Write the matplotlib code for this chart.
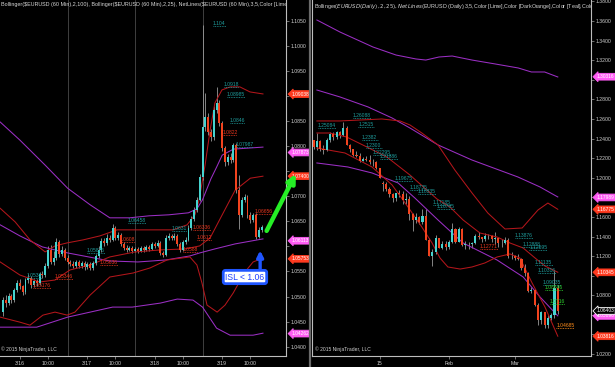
import matplotlib
matplotlib.use('Agg')
import matplotlib.pyplot as plt
from matplotlib.lines import Line2D
from matplotlib.ticker import MultipleLocator, FuncFormatter
from matplotlib.transforms import blended_transform_factory

plt.rcParams['font.family'] = ['Liberation Sans', 'DejaVu Sans']

BG = 'black'
UP = '#46d3cf'
DOWN = '#f2431e'
WICK = '#9a9a9a'
PURPLE = '#9b2fc4'
DARKRED = '#b3161b'
TEAL = '#1f9d9d'
LBLRED = '#e8361e'
LIME = '#2fd12f'
ORANGE = '#ff8c1a'
PINK = '#ff5cf4'
TAGRED = '#ff3a1f'
TXT = '#cfcfcf'

# ---------------- EURUSD 60 min, 16-19 March 2015 ----------------
h_first_open = 1.0469
h_close = [1.0493, 1.0487, 1.0501, 1.0493, 1.0513, 1.0527, 1.0521, 1.0509, 1.0533, 1.0537,
           1.0523, 1.0531, 1.0527, 1.0545, 1.0543, 1.0561, 1.0593, 1.0569, 1.0577, 1.0609,
           1.0585, 1.0593, 1.0577, 1.0569, 1.0565, 1.0561, 1.0569, 1.0561, 1.0567, 1.0559,
           1.0565, 1.0557, 1.0567, 1.0581, 1.0593, 1.0611, 1.0607, 1.0617, 1.0613, 1.0637,
           1.0617, 1.0623, 1.0605, 1.0597, 1.0593, 1.0597, 1.0591, 1.0595, 1.0591, 1.0597,
           1.0593, 1.0599, 1.0595, 1.0605, 1.0601, 1.0607, 1.0587, 1.0583, 1.0617, 1.0621,
           1.0617, 1.0621, 1.0605, 1.0593, 1.0609, 1.0613, 1.0637, 1.0655, 1.0673, 1.0693,
           1.0738, 1.0838, 1.0858, 1.0828, 1.0818, 1.0872, 1.0886, 1.0846, 1.0796, 1.0768,
           1.0778, 1.0772, 1.0802, 1.0713, 1.0663, 1.0693, 1.0699, 1.0663, 1.0653, 1.0663,
           1.0619, 1.0633, 1.0639]
h_high = [1.0499, 1.0503, 1.0508, 1.0506, 1.0518, 1.0533, 1.0535, 1.0524, 1.0538, 1.0545,
          1.0541, 1.0536, 1.0535, 1.0549, 1.0551, 1.0566, 1.0600, 1.0603, 1.0590, 1.0617,
          1.0613, 1.0601, 1.0597, 1.0582, 1.0573, 1.0570, 1.0573, 1.0572, 1.0571, 1.0570,
          1.0569, 1.0568, 1.0570, 1.0585, 1.0600, 1.0617, 1.0616, 1.0624, 1.0622, 1.0644,
          1.0641, 1.0628, 1.0626, 1.0609, 1.0602, 1.0601, 1.0600, 1.0599, 1.0598, 1.0601,
          1.0600, 1.0603, 1.0602, 1.0609, 1.0608, 1.0612, 1.0610, 1.0591, 1.0622, 1.0627,
          1.0625, 1.0626, 1.0624, 1.0608, 1.0613, 1.0618, 1.0642, 1.0660, 1.0679, 1.0699,
          1.0745, 1.1042, 1.0905, 1.0866, 1.0835, 1.0880, 1.0918, 1.0892, 1.0850, 1.0800,
          1.0784, 1.0786, 1.0807, 1.0806, 1.0742, 1.0698, 1.0704, 1.0703, 1.0668, 1.0667,
          1.0666, 1.0638, 1.0643]
h_low = [1.0462, 1.0480, 1.0483, 1.0488, 1.0490, 1.0509, 1.0516, 1.0503, 1.0505, 1.0528,
         1.0518, 1.0519, 1.0521, 1.0524, 1.0537, 1.0539, 1.0556, 1.0564, 1.0563, 1.0573,
         1.0579, 1.0581, 1.0572, 1.0564, 1.0560, 1.0556, 1.0557, 1.0556, 1.0557, 1.0552,
         1.0555, 1.0553, 1.0552, 1.0563, 1.0577, 1.0589, 1.0601, 1.0603, 1.0608, 1.0610,
         1.0612, 1.0613, 1.0600, 1.0592, 1.0589, 1.0590, 1.0587, 1.0588, 1.0587, 1.0588,
         1.0589, 1.0590, 1.0591, 1.0592, 1.0597, 1.0598, 1.0582, 1.0578, 1.0580, 1.0612,
         1.0612, 1.0613, 1.0600, 1.0588, 1.0590, 1.0605, 1.0610, 1.0633, 1.0651, 1.0669,
         1.0690, 1.0733, 1.0830, 1.0822, 1.0810, 1.0812, 1.0866, 1.0840, 1.0790, 1.0760,
         1.0763, 1.0766, 1.0768, 1.0706, 1.0634, 1.0658, 1.0688, 1.0657, 1.0646, 1.0648,
         1.0614, 1.0616, 1.0628]

# Bollinger(2,100) - purple
h_pu_x = [-1, 6, 15, 23, 31, 38, 45, 52, 59, 66, 69, 71, 74, 76, 78, 82, 92.5]
h_pu = [1.0848, 1.0812, 1.0762, 1.0716, 1.0683, 1.0657, 1.0657, 1.0661, 1.0663, 1.0667,
        1.0675, 1.0693, 1.0735, 1.0758, 1.0782, 1.0794, 1.0798]
h_pm_x = [-1, 6, 14, 23, 38, 48, 58, 66.5, 70, 75.4, 82.6, 92.5]
h_pm = [1.0643, 1.0621, 1.0599, 1.0587, 1.0571, 1.0569, 1.0573, 1.0581, 1.0587, 1.0595, 1.0605, 1.0615]
h_pl_x = [-1, 12, 23, 39, 46, 56, 62, 67.6, 71, 76, 80.8, 89, 92.5]
h_pl = [1.0439, 1.0439, 1.0459, 1.0479, 1.0479, 1.0487, 1.0495, 1.0493, 1.0479, 1.0437,
        1.0423, 1.0423, 1.0427]
# Bollinger(2,25) - dark red
h_ru_x = [-1, 4.3, 9.6, 15, 18.5, 22.8, 28.5, 34.5, 40.6, 47.7, 60.5, 65.5, 68.3, 69.8,
          71.9, 73.7, 75.4, 77.9, 80.8, 84.3, 87.9, 92.5]
h_ru = [1.0676, 1.0649, 1.0613, 1.0589, 1.0601, 1.0607, 1.0613, 1.0621, 1.0633, 1.0633,
        1.0633, 1.0643, 1.0663, 1.0693, 1.0762, 1.0832, 1.0886, 1.0912, 1.0918, 1.0918,
        1.0908, 1.0904]
h_rm_x = [-1, 6, 13, 18.5, 23.8, 31, 38, 47, 56, 64.8, 70, 73.7, 78, 82.6, 88, 92.5]
h_rm = [1.0569, 1.0543, 1.0529, 1.0533, 1.0553, 1.0563, 1.0579, 1.0589, 1.0593, 1.0595,
        1.0601, 1.0617, 1.0663, 1.0712, 1.0736, 1.0740]
h_rl_x = [-1, 6, 9.6, 14.2, 18.5, 22.8, 25.6, 31, 38, 46.3, 52.3, 58.4, 66.5, 69, 70.8,
          72.6, 76.2, 79, 81.9, 86.1, 89, 92.5]
h_rl = [1.0459, 1.0449, 1.0443, 1.0463, 1.0469, 1.0463, 1.0469, 1.0503, 1.0539, 1.0547,
        1.0557, 1.0573, 1.0579, 1.0563, 1.0527, 1.0483, 1.0469, 1.0483, 1.0507, 1.0549,
        1.0569, 1.0577]

h_sessions = [23.1, 47.0, 71.2]
h_tick_pos = [6, 16, 30, 40, 54, 64, 78, 88]
h_tick_lbl = ['3/16', '10:00', '3/17', '10:00', '3/18', '10:00', '3/19', '10:00']

# NetLines labels: (bar, price text, colour)
h_labels = [(74.7, '1.104', TEAL), (78.6, '1.0918', TEAL), (79.7, '1.08985', TEAL),
            (80.8, '1.0846', TEAL), (82.6, '1.07987', TEAL), (44.5, '1.06458', TEAL),
            (29.9, '1.05876', TEAL), (8.5, '1.0538', TEAL), (60, '1.0631', TEAL),
            (78, '1.0822', LBLRED), (89.5, '1.06656', LBLRED), (67.6, '1.06336', LBLRED),
            (69, '1.0612', LBLRED), (64, '1.0588', LBLRED), (41.6, '1.0608', LBLRED),
            (34.5, '1.05636', LBLRED), (18.5, '1.05346', LBLRED), (10.7, '1.05176', LBLRED)]
h_tags = [('1.09038', TAGRED), ('1.07873', PINK), ('1.07400', TAGRED),
          ('1.06113', PINK), ('1.05753', TAGRED), ('1.04262', PINK)]
h_title = ('Bollinger($EURUSD (60 Min),2,100), Bollinger($EURUSD (60 Min),2,25), '
           'NetLines($EURUSD (60 Min),3,5,Color [Lime],Col')

# ---------------- EURUSD daily, 3 Dec 2014 - 19 Mar 2015 ----------------
d_x = list(range(2, 77))
d_open = [1.2381, 1.2310, 1.2379, 1.2289, 1.2283, 1.2381, 1.2448, 1.2414, 1.2464, 1.2439,
          1.2508, 1.2334, 1.2289, 1.2228, 1.2227, 1.2175, 1.2196, 1.2183, 1.2157, 1.2156,
          1.2098, 1.1950, 1.1934, 1.1890, 1.1839, 1.1792, 1.1842, 1.1838, 1.1774, 1.1787,
          1.1631, 1.1566, 1.1600, 1.1549, 1.1609, 1.1367, 1.1204, 1.1239, 1.1381, 1.1287,
          1.1320, 1.1289, 1.1345, 1.1478, 1.1348, 1.1480, 1.1316, 1.1319, 1.1323, 1.1332,
          1.1405, 1.1390, 1.1374, 1.1405, 1.1408, 1.1373, 1.1380, 1.1330, 1.1337, 1.1364,
          1.1199, 1.1196, 1.1182, 1.1174, 1.1077, 1.1030, 1.0843, 1.0849, 1.0700, 1.0549,
          1.0628, 1.0496, 1.0567, 1.0594, 1.0873]
d_high = [1.2390, 1.2456, 1.2385, 1.2337, 1.2405, 1.2463, 1.2465, 1.2475, 1.2478, 1.2570,
          1.2530, 1.2343, 1.2293, 1.2277, 1.2250, 1.2210, 1.2225, 1.2230, 1.2190, 1.2166,
          1.2100, 1.1970, 1.1960, 1.1910, 1.1845, 1.1845, 1.1870, 1.1860, 1.1840, 1.1811,
          1.1640, 1.1640, 1.1610, 1.1680, 1.1680, 1.1385, 1.1270, 1.1420, 1.1388, 1.1355,
          1.1350, 1.1365, 1.1535, 1.1485, 1.1498, 1.1486, 1.1350, 1.1340, 1.1345, 1.1430,
          1.1450, 1.1400, 1.1440, 1.1430, 1.1420, 1.1450, 1.1385, 1.1370, 1.1390, 1.1380,
          1.1240, 1.1215, 1.1225, 1.1180, 1.1115, 1.1040, 1.0880, 1.0860, 1.0720, 1.0640,
          1.0630, 1.0600, 1.0620, 1.1043, 1.0900]
d_low = [1.2290, 1.2280, 1.2269, 1.2247, 1.2274, 1.2360, 1.2386, 1.2399, 1.2408, 1.2430,
         1.2330, 1.2260, 1.2220, 1.2215, 1.2165, 1.2168, 1.2170, 1.2140, 1.2125, 1.2092,
         1.2000, 1.1860, 1.1865, 1.1805, 1.1754, 1.1760, 1.1800, 1.1728, 1.1728, 1.1570,
         1.1460, 1.1540, 1.1530, 1.1530, 1.1360, 1.1200, 1.1098, 1.1225, 1.1280, 1.1270,
         1.1260, 1.1270, 1.1335, 1.1330, 1.1340, 1.1300, 1.1270, 1.1270, 1.1280, 1.1320,
         1.1370, 1.1340, 1.1350, 1.1370, 1.1340, 1.1320, 1.1290, 1.1290, 1.1320, 1.1180,
         1.1170, 1.1160, 1.1160, 1.1060, 1.1000, 1.0830, 1.0820, 1.0690, 1.0495, 1.0510,
         1.0470, 1.0462, 1.0545, 1.0570, 1.0613]
d_close = [1.2310, 1.2379, 1.2289, 1.2283, 1.2381, 1.2448, 1.2414, 1.2464, 1.2439, 1.2508,
           1.2334, 1.2289, 1.2228, 1.2227, 1.2175, 1.2196, 1.2183, 1.2157, 1.2156, 1.2098,
           1.2002, 1.1934, 1.1890, 1.1839, 1.1792, 1.1842, 1.1838, 1.1774, 1.1787, 1.1631,
           1.1566, 1.1600, 1.1549, 1.1609, 1.1367, 1.1204, 1.1239, 1.1381, 1.1287, 1.1320,
           1.1289, 1.1345, 1.1478, 1.1348, 1.1480, 1.1316, 1.1319, 1.1323, 1.1332, 1.1405,
           1.1390, 1.1374, 1.1405, 1.1408, 1.1373, 1.1380, 1.1330, 1.1337, 1.1364, 1.1199,
           1.1196, 1.1182, 1.1174, 1.1077, 1.1030, 1.0843, 1.0849, 1.0700, 1.0549, 1.0628,
           1.0496, 1.0567, 1.0594, 1.0873, 1.0640]

d_pu_x = [3, 10, 20, 27, 33, 36, 40, 44, 50, 57, 64, 68, 72, 76]
d_pu = [1.3611, 1.3488, 1.3335, 1.3253, 1.3213, 1.3202, 1.3233, 1.3243, 1.3202, 1.3162,
        1.3121, 1.3080, 1.3080, 1.3029]
d_pm_x = [3, 10, 18.5, 25.8, 31.2, 39.7, 50, 63.9, 70.6, 76]
d_pm = [1.2896, 1.2825, 1.2723, 1.2610, 1.2508, 1.2335, 1.2181, 1.2008, 1.1906, 1.1804]
d_pl_x = [3, 12.4, 19.7, 23.6, 27.6, 32.7, 39.7, 47.3, 57.6, 65.5, 70.6, 76]
d_pl = [1.2151, 1.2110, 1.2049, 1.1998, 1.1947, 1.1793, 1.1569, 1.1334, 1.1160, 1.0987,
        1.0783, 1.0590]
d_ru_x = [3, 10, 22.7, 28.2, 31.2, 34.8, 39.7, 44.8, 50, 54.8, 60, 65.2, 70, 73, 76]
d_ru = [1.2580, 1.2580, 1.2600, 1.2580, 1.2539, 1.2457, 1.2335, 1.2079, 1.1845, 1.1640,
        1.1477, 1.1487, 1.1671, 1.1742, 1.1678]
d_rm_x = [3, 6.9, 12, 16.9, 24.2, 31.2, 39.4, 43.3, 47.3, 52.4, 57.6, 61.5, 65.5, 69.1, 72.1, 76]
d_rm = [1.2457, 1.2457, 1.2416, 1.2335, 1.2212, 1.2028, 1.1783, 1.1702, 1.1569, 1.1436,
        1.1395, 1.1334, 1.1283, 1.1181, 1.1099, 1.1035]
d_rl_x = [3, 11.5, 19.7, 25.8, 30.6, 34.8, 37.9, 40.3, 42.7, 46.4, 50, 53.9, 57.6, 61.5,
          64.5, 68.2, 72.1, 76]
d_rl = [1.2304, 1.2253, 1.2110, 1.1926, 1.1702, 1.1497, 1.1334, 1.1181, 1.1089, 1.1068,
        1.1089, 1.1130, 1.1191, 1.1222, 1.1181, 1.0926, 1.0681, 1.0382]

d_tick_pos = [22, 43, 63]
d_tick_lbl = ['15', 'Feb', 'Mar']

d_labels = [(3.3, '1.25084', TEAL), (13.9, '1.26088', TEAL), (15.5, '1.2515', TEAL),
            (16.7, '1.2382', TEAL), (17.9, '1.2300', TEAL), (20, '1.22295', TEAL),
            (22.1, '1.21886', TEAL), (26.7, '1.19675', TEAL), (31.2, '1.18735', TEAL),
            (33.6, '1.18335', TEAL), (38.2, '1.17185', TEAL), (39.4, '1.16785', TEAL),
            (63, '1.13876', TEAL), (65.2, '1.12888', TEAL), (67.4, '1.12595', TEAL),
            (69.1, '1.11135', TEAL), (70, '1.10316', TEAL), (71.5, '1.09035', TEAL),
            (72.1, '1.08546', LIME), (73.6, '1.0716', LIME), (75.5, '1.04685', ORANGE),
            (52.4, '1.12771', LBLRED)]
d_tags = [('1.30316', PINK), ('1.17989', PINK), ('1.16775', TAGRED), ('1.10345', TAGRED),
          ('1.05896', PINK), ('1.03816', TAGRED)]
d_last = '1.06403'
d_title = ('Bollinger($EURUSD (Daily),2,25), NetLines($EURUSD (Daily),3,5,'
           'Color [Lime],Color [DarkOrange],Color [Teal],Color')


def candles(ax, xs, o, h, l, c, w, dmin):
    cols = [UP if cc >= oo else DOWN for oo, cc in zip(o, c)]
    ax.vlines(xs, l, h, colors=WICK, lw=0.6, zorder=2)
    ax.bar(xs, [max(abs(cc - oo), dmin) for oo, cc in zip(o, c)],
           bottom=[min(oo, cc) for oo, cc in zip(o, c)], width=w, color=cols, lw=0, zorder=3)


def style(ax, step, left_spine, tag_vals, tol):
    ax.set_facecolor(BG)
    ax.spines['top'].set_visible(False)
    ax.spines['left'].set_visible(left_spine)
    for s in ['right', 'bottom', 'left']:
        ax.spines[s].set_color('#bdbdbd')
        ax.spines[s].set_linewidth(0.8)
    ax.yaxis.tick_right()
    ax.yaxis.set_major_locator(MultipleLocator(step))
    # price markers hide the axis labels they sit on
    ax.yaxis.set_major_formatter(FuncFormatter(
        lambda v, pos: '' if any(abs(v - t) < tol for t in tag_vals) else '%.4f' % v))
    ax.tick_params(colors='#9a9a9a', labelcolor=TXT, labelsize=3.7, length=2, width=0.5, pad=1.5)


def netlabel(ax, x, txt, col, per_char):
    y = float(txt)
    ax.hlines(y, x, x + per_char * len(txt), colors=col, linestyles=(0, (1, 1)), lw=0.6, zorder=4)
    ax.text(x, y, txt, color=col, fontsize=3.6, ha='left', va='bottom', zorder=4)


def tag(ax, txt, fc, ec=None):
    tr = blended_transform_factory(ax.transAxes, ax.transData)
    ax.text(1.02, float(txt), txt, transform=tr, ha='left', va='center', fontsize=3.5,
            color='white', clip_on=False, zorder=6,
            bbox=dict(boxstyle='larrow,pad=0.18', fc=fc, ec=ec or fc, lw=0.6))


fig = plt.figure(figsize=(6.15, 3.67), dpi=100, facecolor=BG)
ax1 = fig.add_axes([0, 11 / 367, 286 / 615, 356 / 367])
ax2 = fig.add_axes([312 / 615, 11 / 367, 279 / 615, 356 / 367])
fig.add_artist(Line2D([309.5 / 615] * 2, [0, 1], color='#6a6a6a', lw=1.6))

# ---- left: 60 min ----
style(ax1, 0.005, False, [float(t) for t, c in h_tags], 0.0012)
h_x = list(range(len(h_close)))
h_open = [h_first_open] + h_close[:-1]
for s in h_sessions:
    ax1.axvline(s, color='#4a4a4a', lw=0.6, zorder=1)
candles(ax1, h_x, h_open, h_high, h_low, h_close, 0.7, 0.00008)
for xs, ys in [(h_pu_x, h_pu), (h_pm_x, h_pm), (h_pl_x, h_pl)]:
    ax1.plot(xs, ys, color=PURPLE, lw=0.75, zorder=2.5)
for xs, ys in [(h_ru_x, h_ru), (h_rm_x, h_rm), (h_rl_x, h_rl)]:
    ax1.plot(xs, ys, color=DARKRED, lw=0.75, zorder=2.5)
for x, t, c in h_labels:
    netlabel(ax1, x, t, c, 0.9)
for t, c in h_tags:
    tag(ax1, t, c)
ax1.set_xlim(-1.07, 100.7)
ax1.set_ylim(1.03815, 1.10913)
ax1.set_xticks(h_tick_pos)
ax1.set_xticklabels(h_tick_lbl)
ax1.text(0.002, 0.993, h_title, transform=ax1.transAxes, fontsize=3.9, color='#d6d6d6',
         va='top', ha='left', clip_on=True)
ax1.text(0.005, 0.012, '\u00a9 2015 NinjaTrader, LLC', transform=ax1.transAxes,
         fontsize=3.6, color=TXT, va='bottom')

# trade idea annotations
ax1.annotate('', xy=(104.2, 1.0745), xytext=(93.8, 1.0631), annotation_clip=False, zorder=8,
             arrowprops=dict(arrowstyle='-|>', color='#25ee25', lw=3.2, mutation_scale=12,
                             shrinkA=0, shrinkB=0))
ax1.annotate('', xy=(91.5, 1.0592), xytext=(91.5, 1.0551), zorder=8,
             arrowprops=dict(arrowstyle='-|>', color='#1f55ff', lw=2.4, mutation_scale=9,
                             shrinkA=0, shrinkB=0))
ax1.text(86.1, 1.0539, 'ISL < 1.06', ha='center', va='center', fontsize=6.2, color='#1f40ff',
         zorder=9, bbox=dict(boxstyle='round,pad=0.25', fc='white', ec='#1f55ff', lw=2.0))

# ---- right: daily ----
style(ax2, 0.02, True, [float(t) for t, c in d_tags] + [float(d_last)], 0.006)
candles(ax2, d_x, d_open, d_high, d_low, d_close, 0.65, 0.0004)
for xs, ys in [(d_pu_x, d_pu), (d_pm_x, d_pm), (d_pl_x, d_pl)]:
    ax2.plot(xs, ys, color=PURPLE, lw=0.75, zorder=2.5)
for xs, ys in [(d_ru_x, d_ru), (d_rm_x, d_rm), (d_rl_x, d_rl)]:
    ax2.plot(xs, ys, color=DARKRED, lw=0.75, zorder=2.5)
for x, t, c in d_labels:
    netlabel(ax2, x, t, c, 0.78)
for t, c in d_tags:
    tag(ax2, t, c)
tag(ax2, d_last, 'black', 'white')
ax2.set_xlim(1.52, 86.06)
ax2.set_ylim(1.0180, 1.3815)
ax2.set_xticks(d_tick_pos)
ax2.set_xticklabels(d_tick_lbl)
ax2.text(0.006, 0.993, d_title, transform=ax2.transAxes, fontsize=3.9, color='#d6d6d6',
         va='top', ha='left', clip_on=True)
ax2.text(0.01, 0.012, '\u00a9 2015 NinjaTrader, LLC', transform=ax2.transAxes,
         fontsize=3.6, color=TXT, va='bottom')

fig.savefig('out.png', dpi=100, facecolor=BG)
